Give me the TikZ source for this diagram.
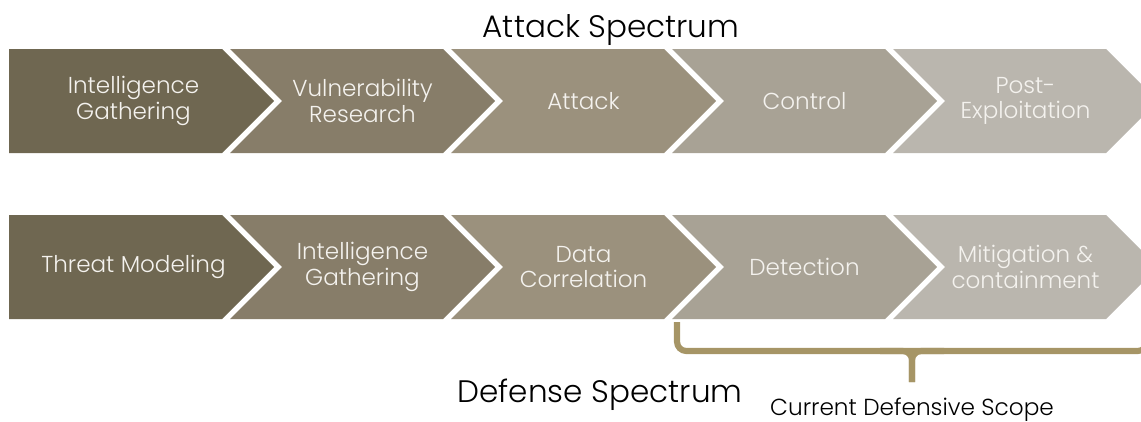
\documentclass[tikz,border=0pt]{standalone}
\usepackage{fontspec}
\setmainfont{Poppins}[UprightFont=* Light]
\usepackage{xcolor}
\usepackage{tikz}
\usetikzlibrary{positioning}
\definecolor{stA}{RGB}{111,103,81}
\definecolor{stB}{RGB}{135,125,105}
\definecolor{stC}{RGB}{155,145,125}
\definecolor{stD}{RGB}{168,162,149}
\definecolor{stE}{RGB}{186,182,174}
\definecolor{sttxt}{RGB}{244,242,238}
\definecolor{scopegold}{RGB}{166,149,102}
\tikzset{
  chev/.style={draw=none},
  chevtxt/.style={text=sttxt, align=center, inner sep=0pt,
    font=\fontsize{17.3}{19.2}\selectfont},
  spectitle/.style={font=\fontsize{23.3}{27}\selectfont, text=black, inner sep=0pt},
  scopetxt/.style={font=\fontsize{17.4}{20}\selectfont, text=black, inner sep=0pt},
  scopebrace/.style={draw=scopegold, line width=4.6pt, rounded corners=7pt}
}

\begin{document}
\begin{tikzpicture}[x=0.75pt,y=-0.75pt]
  \useasboundingbox (0,0) rectangle (1141,421);

  % chevron rows: left edge, width, tip depth
  \def\w{213}
  \def\d{52}
  \foreach \row/\top/\pre in {0/49/a,1/215/d} {
    \foreach \i/\col in {1/stA,2/stB,3/stC,4/stD,5/stE} {
      \pgfmathsetmacro{\L}{9+221*(\i-1)}
      \ifnum\i=1
        \fill[chev, \col] (\L,\top) -- ++(\w,0) -- ++(\d,52) -- ++(-\d,52)
          -- ++(-\w,0) -- cycle;
        \coordinate (\pre\i) at (\L+124.5,\top+52);
      \else
        \fill[chev, \col] (\L,\top) -- ++(\w,0) -- ++(\d,52) -- ++(-\d,52)
          -- ++(-\w,0) -- ++(\d,-52) -- cycle;
        \coordinate (\pre\i) at (\L+132.5,\top+52);
      \fi
    }
  }

  % attack steps
  \node[chevtxt] (atk1) at (a1) {Intelligence\\Gathering};
  \node[chevtxt] (atk2) at (a2) {Vulnerability\\Research};
  \node[chevtxt] (atk3) at (a3) {Attack};
  \node[chevtxt] (atk4) at (a4) {Control};
  \node[chevtxt] (atk5) at (a5) {Post-\\Exploitation};

  % defense steps
  \node[chevtxt] (def1) at (d1) {Threat Modeling};
  \node[chevtxt] (def2) at (d2) {Intelligence\\Gathering};
  \node[chevtxt] (def3) at (d3) {Data\\Correlation};
  \node[chevtxt] (def4) at (d4) {Detection};
  \node[chevtxt] (def5) at (d5) {Mitigation \&\\containment};

  \node[spectitle, anchor=base] (atktitle) at (611,37) {Attack Spectrum};
  \node[spectitle, anchor=base] (deftitle) at (600,402) {Defense Spectrum};

  % scope bracket under detection + mitigation
  \coordinate (scL) at (677,322);
  \coordinate (scR) at (1147,322);
  \coordinate (scM) at (912,351);
  \coordinate (tipL) at (880,351);
  \coordinate (tipR) at (944,351);
  \coordinate (tip) at (912,382);
  \draw[scopebrace] (scL) |- (scM) -| (scR);
  \draw[scopebrace] (tipL) -- (scM) -- (tip);
  \draw[scopebrace] (tipR) -- (scM) -- (tip);
  \node[scopetxt, anchor=base] (scope) at (912,415) {Current Defensive Scope};
\end{tikzpicture}
\end{document}
